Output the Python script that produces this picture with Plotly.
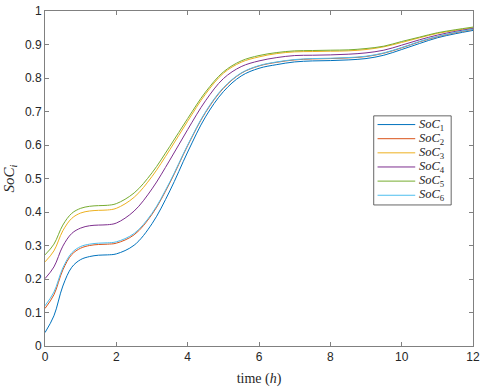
import plotly.graph_objects as go

time_h = [0, 0.25, 0.5, 0.75, 1, 1.25, 1.5, 1.75, 2, 2.5, 3, 3.5, 4, 4.5, 5, 5.5,
          6, 6.5, 7, 7.5, 8, 8.5, 9, 9.5, 10, 10.5, 11, 11.5, 12]

soc1 = [0.040, 0.090, 0.179, 0.235, 0.258, 0.267, 0.271, 0.272, 0.275, 0.301, 0.365, 0.463,
        0.579, 0.684, 0.759, 0.806, 0.829, 0.840, 0.848, 0.851, 0.852, 0.854, 0.858, 0.868,
        0.885, 0.903, 0.920, 0.932, 0.942]
soc2 = [0.112, 0.153, 0.227, 0.273, 0.292, 0.300, 0.303, 0.304, 0.307, 0.332, 0.393, 0.487,
        0.598, 0.697, 0.769, 0.814, 0.836, 0.847, 0.854, 0.857, 0.858, 0.860, 0.864, 0.874,
        0.890, 0.908, 0.923, 0.935, 0.945]
soc3 = [0.251, 0.284, 0.344, 0.381, 0.397, 0.403, 0.405, 0.406, 0.411, 0.444, 0.506, 0.586,
        0.671, 0.752, 0.814, 0.847, 0.863, 0.873, 0.878, 0.879, 0.880, 0.881, 0.885, 0.893,
        0.906, 0.920, 0.933, 0.942, 0.950]
soc4 = [0.201, 0.236, 0.298, 0.336, 0.352, 0.359, 0.361, 0.362, 0.367, 0.403, 0.469, 0.555,
        0.646, 0.732, 0.798, 0.834, 0.851, 0.861, 0.867, 0.868, 0.869, 0.871, 0.875, 0.883,
        0.898, 0.914, 0.928, 0.939, 0.948]
soc5 = [0.272, 0.304, 0.361, 0.396, 0.411, 0.417, 0.419, 0.420, 0.425, 0.457, 0.517, 0.596,
        0.679, 0.758, 0.818, 0.851, 0.867, 0.876, 0.881, 0.882, 0.883, 0.884, 0.888, 0.895,
        0.909, 0.922, 0.935, 0.944, 0.952]
soc6 = [0.120, 0.161, 0.233, 0.278, 0.297, 0.304, 0.307, 0.308, 0.311, 0.336, 0.396, 0.490,
        0.600, 0.699, 0.771, 0.815, 0.837, 0.848, 0.855, 0.858, 0.859, 0.861, 0.865, 0.875,
        0.891, 0.909, 0.924, 0.936, 0.946]

series_labels = ["1", "2", "3", "4", "5", "6"]
series_values = [soc1, soc2, soc3, soc4, soc5, soc6]
colors = ["#0072BD", "#D95319", "#EDB120", "#7E2F8E", "#77AC30", "#4DBEEE"]

x_ticks = [0, 2, 4, 6, 8, 10, 12]
y_ticks = [0, 0.1, 0.2, 0.3, 0.4, 0.5, 0.6, 0.7, 0.8, 0.9, 1]
y_tick_text = ["0", "0.1", "0.2", "0.3", "0.4", "0.5", "0.6", "0.7", "0.8", "0.9", "1"]

fig = go.Figure()
for lab, vals, c in zip(series_labels, series_values, colors):
    fig.add_trace(go.Scatter(x=time_h, y=vals, mode="lines",
                             name="SoC" + lab, showlegend=False, hoverinfo="skip",
                             line=dict(color=c, width=1, shape="spline", smoothing=1.0)))

# Legend box drawn in paper coordinates (MATLAB-style compact legend)
leg_x0, leg_x1 = 0.768, 0.949
leg_y0, leg_y1 = 0.421, 0.687
row_h = 0.0422
fig.add_shape(type="rect", xref="paper", yref="paper", x0=leg_x0, x1=leg_x1,
              y0=leg_y0, y1=leg_y1, line=dict(color="#404040", width=0.8),
              fillcolor="white", layer="above")
for i, (lab, c) in enumerate(zip(series_labels, colors)):
    yy = leg_y1 - 0.026 - i * row_h
    fig.add_shape(type="line", xref="paper", yref="paper", x0=0.777, x1=0.865,
                  y0=yy, y1=yy, line=dict(color=c, width=1), layer="above")
    fig.add_annotation(xref="paper", yref="paper", x=0.870, y=yy, xanchor="left",
                       yanchor="middle", showarrow=False,
                       text="<i>SoC</i><sub>" + lab + "</sub>",
                       font=dict(family="Liberation Serif, Times New Roman", size=12.5,
                                 color="#262626"))

axis_common = dict(showline=True, linecolor="#808080", linewidth=1, mirror="ticks",
                   ticks="inside", ticklen=4, tickcolor="#808080", showgrid=False,
                   zeroline=False, ticklabeloverflow="allow",
                   tickfont=dict(family="Liberation Sans, Arial", size=12, color="#262626"))

fig.update_layout(
    width=484, height=387,
    margin=dict(l=45, r=8, t=4, b=41),
    paper_bgcolor="white", plot_bgcolor="white",
    xaxis=dict(range=[0, 12], tickvals=x_ticks,
               title=dict(text="time (<i>h</i>)", standoff=9,
                          font=dict(family="Liberation Serif, Times New Roman", size=14,
                                    color="#262626")),
               **axis_common),
    yaxis=dict(range=[0, 1], tickvals=y_ticks, ticktext=y_tick_text,
               title=dict(text="<i>SoC<sub>i</sub></i>", standoff=6,
                          font=dict(family="Liberation Serif, Times New Roman", size=15,
                                    color="#262626")),
               **axis_common),
    showlegend=False,
)

fig.write_html("out.html", config={"displayModeBar": False, "staticPlot": True},
               post_script="document.body.style.margin='0';")
